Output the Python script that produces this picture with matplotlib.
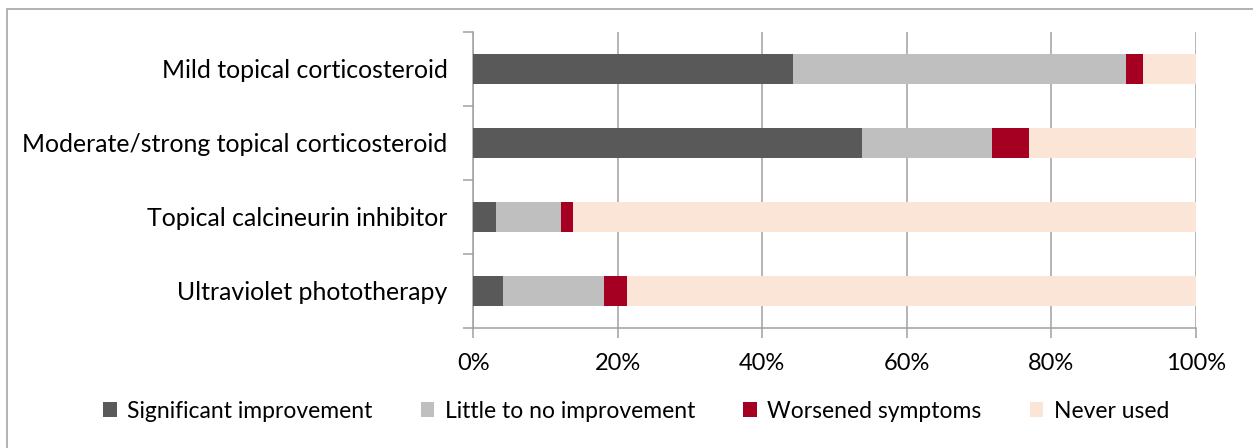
import matplotlib
matplotlib.use("Agg")
import matplotlib.pyplot as plt
from matplotlib.patches import Rectangle, Patch
from matplotlib.ticker import FixedLocator, PercentFormatter
import numpy as np

categories = ["Mild topical corticosteroid",
              "Moderate/strong topical corticosteroid",
              "Topical calcineurin inhibitor",
              "Ultraviolet phototherapy"]
series_names = ["Significant improvement", "Little to no improvement",
                "Worsened symptoms", "Never used"]
significant = [44.3, 53.8, 3.2, 4.1]
little = [46.0, 18.0, 9.0, 14.0]
worsened = [2.4, 5.1, 1.6, 3.2]
never = [7.3, 23.1, 86.2, 78.7]
colors = ["#595959", "#bfbfbf", "#a50021", "#fbe5d6"]
xticks = [0, 20, 40, 60, 80, 100]

W, H = 1253, 448
fig = plt.figure(figsize=(W / 100, H / 100), dpi=100)
plt.rcParams['font.family'] = ['Lato', 'DejaVu Sans']

left, right, top, bottom = 473.3, 1195.8, 32, 328
ax = fig.add_axes([left / W, 1 - bottom / H, (right - left) / W, (bottom - top) / H])

# figure frame
fig.patches.append(Rectangle((7 / W, -0.1), 1.2, (H - 9) / H + 0.1, transform=fig.transFigure,
                             fill=False, edgecolor="#a6a6a6", linewidth=1.2, zorder=-1))

y = np.arange(len(categories))
data = [significant, little, worsened, never]
lefts = np.zeros(len(categories))
for name, vals, c in zip(series_names, data, colors):
    ax.barh(y, vals, left=lefts, height=0.4, color=c, label=name, zorder=3)
    lefts += np.array(vals)

ax.set_xlim(0, 100)
ax.set_ylim(len(categories) - 0.5, -0.5)
ax.xaxis.set_major_locator(FixedLocator(xticks))
ax.xaxis.set_major_formatter(PercentFormatter(decimals=0))
ax.grid(axis="x", color="#a0a0a0", linewidth=1.1, zorder=0)

ax.set_yticks(y)
ax.set_yticklabels(categories)
ax.set_yticks(np.arange(-0.5, len(categories), 1.0), minor=True)
ax.tick_params(axis="y", which="major", length=0, pad=18.5, labelsize=17.9)
ax.tick_params(axis="y", which="minor", length=7, color="#a0a0a0", width=1.1)
ax.tick_params(axis="x", which="major", length=7, color="#a0a0a0", width=1.1,
               labelsize=17, pad=11)

for s in ["top", "right"]:
    ax.spines[s].set_visible(False)
for s in ["left", "bottom"]:
    ax.spines[s].set_color("#a0a0a0")
    ax.spines[s].set_linewidth(1.1)

handles = [Patch(facecolor=c, edgecolor="none", label=n) for n, c in zip(series_names, colors)]
fig.legend(handles=handles, loc="center", bbox_to_anchor=(636 / W, 1 - 411 / H), ncol=4,
           frameon=False, fontsize=16.5, handlelength=0.6, handleheight=0.6,
           handletextpad=0.45, columnspacing=2.1)

fig.savefig("out.png", dpi=100, facecolor="white")
